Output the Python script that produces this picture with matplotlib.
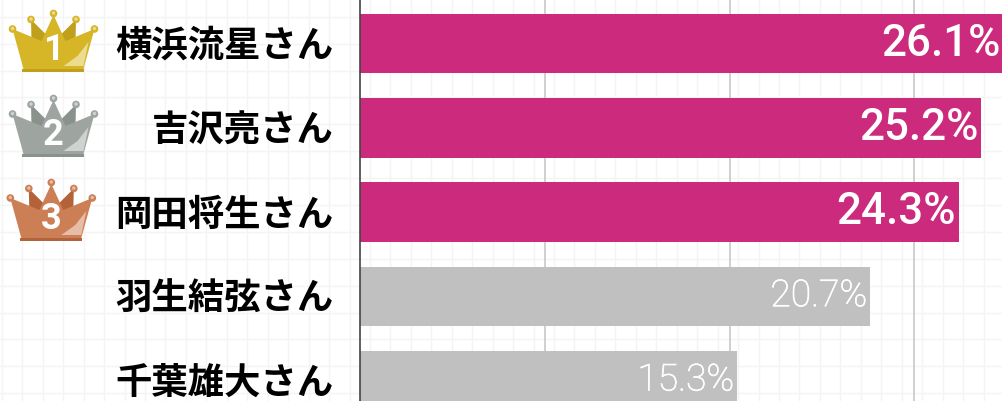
import matplotlib
matplotlib.use("Agg")
import matplotlib.pyplot as plt
import matplotlib.patheffects as pe
from matplotlib.patches import Polygon, Circle, Rectangle
from matplotlib.transforms import ScaledTranslation

names = ["横浜流星さん", "吉沢亮さん", "岡田将生さん", "羽生結弦さん", "千葉雄大さん"]
values = [26.1, 25.2, 24.3, 20.7, 15.3]
labels = ["26.1%", "25.2%", "24.3%", "20.7%", "15.3%"]
ranks = ["1", "2", "3"]
PINK = "#cc2a7c"
GRAY = "#c0c0c0"
crown_cols = [("#d6b526", "#bf9f1c", "#ecdc90", "#ecdc90"),
              ("#9ea5a0", "#8a928c", "#cfd3d0", "#cfd3d0"),
              ("#cc7f54", "#b3623a", "#e6bda6", "#e6bda6")]

W, H = 1003, 401
plt.rcParams['font.family'] = ['Noto Sans CJK JP', 'DejaVu Sans']
fig = plt.figure(figsize=(W/100, H/100), dpi=100, facecolor="white")

# page overlay in pixel coordinates
bg = fig.add_axes([0, 0, 1, 1], zorder=0)
bg.set_xlim(0, W); bg.set_ylim(H, 0); bg.axis("off")
x = 1.9
while x < W:
    bg.axvline(x, color="#f4f4f4", lw=1); x += 20.45
y = 16.7
while y < H:
    bg.axhline(y, color="#f4f4f4", lw=1); y += 26.9

# bar axes: plot area from x=360 to right edge
x0 = 360
step = 24.64
ax = fig.add_axes([x0/W, 0, (W-x0)/W, 1], zorder=1)
ax.patch.set_alpha(0)
ax.set_xlim(0, (W-x0)/step)
row = 84.25
ax.set_ylim((H-43.5)/row, -43.5/row)
for s in ["top", "right", "bottom"]:
    ax.spines[s].set_visible(False)
ax.spines["left"].set_color("#444444")
ax.spines["left"].set_linewidth(1.2)
ax.set_xticks([7.5, 15, 22.5])
ax.set_xticklabels([])
ax.tick_params(length=0, left=False)
ax.grid(axis="x", color="#c8c8c8", lw=1.2)
ax.set_axisbelow(True)
ax.set_yticks(range(len(names)))
ax.set_yticklabels(names, fontsize=26.2, fontweight="bold", color="black", va="center_baseline")
ax.tick_params(axis="y", pad=18.8)
for lbl in ax.get_yticklabels():
    lbl.set_transform(lbl.get_transform() + ScaledTranslation(0, 1/100, fig.dpi_scale_trans))
ypos = list(range(len(names)))
bars = ax.barh(ypos, values, height=59.5/row,
               color=[PINK]*3 + [GRAY]*2)
for i, (v, t) in enumerate(zip(values, labels)):
    top = i < 3
    txt = ax.annotate(t, (v, i), xytext=(-2, 0), textcoords="offset points",
                      ha="right", va="center", color="white", clip_on=False,
                      family=["Roboto", "DejaVu Sans"],
                      fontsize=31.6 if top else 26.8,
                      fontweight="medium" if top else "light")
    if not top:
        txt.set_path_effects([pe.withStroke(linewidth=0.5, foreground="white")])

# crowns
ov = fig.add_axes([0, 0, 1, 1], zorder=2)
ov.set_xlim(0, W); ov.set_ylim(H, 0); ov.axis("off"); ov.patch.set_alpha(0)

def crown(cx, cy, rank, cols):
    body, dark, shine, ball = cols
    p = lambda pts: [(cx+a, cy+b) for a, b in pts]
    for sgn in (-1, 1):
        ov.add_patch(Polygon(p([(sgn*22.5, -24.5), (sgn*22, -3), (sgn*9, -3), (sgn*8, -10)]),
                             fc=dark, ec="none"))
    ov.add_patch(Polygon(p([(-41, -15), (-12, -3), (0, -29), (12, -3), (41, -15),
                            (30, 25), (-30, 25)]), fc=body, ec="none"))
    ov.add_patch(Polygon(p([(35, -2), (30, 22), (10, 22), (24, 12)]), fc=shine, ec="none"))
    ov.add_patch(Rectangle((cx-31, cy+24.5), 62, 3.4, fc=dark, ec="none"))
    for a, b in [(-41, -15), (-22.5, -24.5), (0, -30.5), (22.5, -24.5), (41, -15)]:
        ov.add_patch(Circle((cx+a, cy+b), 3.8, fc=body, ec="none"))
        ov.add_patch(Circle((cx+a, cy+b-0.5), 1.7, fc=ball, ec="none"))
    ov.text(cx, cy+6, rank, color="white", ha="center", va="center",
            fontsize=26, fontweight="bold", family=["Roboto", "DejaVu Sans"])

for c, r, col in zip([(53.5, 44), (53.5, 129), (51.3, 213)], ranks, crown_cols):
    crown(c[0], c[1], r, col)

fig.savefig("out.png", dpi=100)
